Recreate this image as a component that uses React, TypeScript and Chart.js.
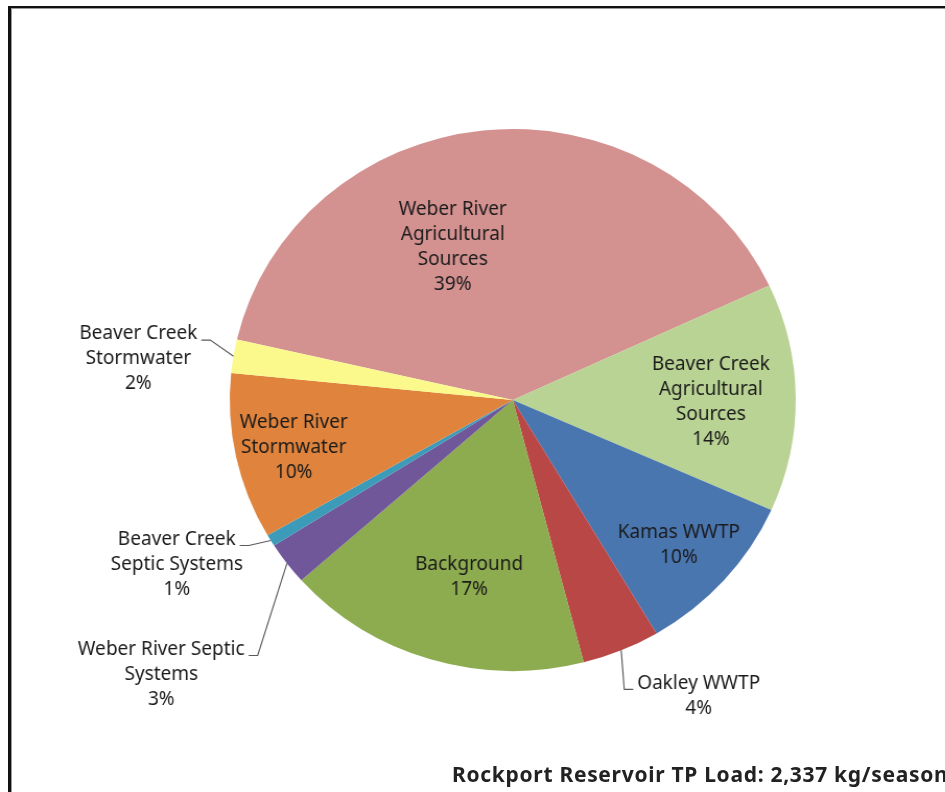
import React, { useEffect, useRef } from "react";
import { Chart, registerables } from "chart.js";

Chart.register(...registerables);

// ---- data -------------------------------------------------------------
const categories: string[][] = [
  ["Weber River", "Agricultural", "Sources"],
  ["Beaver Creek", "Agricultural", "Sources"],
  ["Kamas WWTP"],
  ["Oakley WWTP"],
  ["Background"],
  ["Weber River Septic", "Systems"],
  ["Beaver Creek", "Septic Systems"],
  ["Weber River", "Stormwater"],
  ["Beaver Creek", "Stormwater"],
];
// share of the seasonal TP load, %
const sharePct = [39.45, 13.6, 9.85, 4.45, 17.45, 2.55, 0.7, 9.9, 2.0];
const totalLoadText = "Rockport Reservoir TP Load: 2,337 kg/season";

// ---- styles -------------------------------------------------------------
const sliceColors = [
  "#D39190",
  "#B9D394",
  "#4A76B0",
  "#B94745",
  "#8DAB4F",
  "#70579A",
  "#3C9BB8",
  "#E0843D",
  "#FBF98C",
];
// label centre offsets, in units of the pie radius from its centre
const labelPlacement: [number, number][] = [
  [-0.212, -0.563],
  [0.7, 0.006],
  [0.587, 0.537],
  [0.657, 1.092],
  [-0.154, 0.655],
  [-1.242, 1.013],
  [-1.187, 0.607],
  [-0.774, 0.174],
  [-1.323, -0.151],
];
const RADIUS = 271;
const CENTER_Y = 400;
const SX = 283 / RADIUS; // horizontal stretch of the pie (ellipse)
const W = 945;
const H = 792;
const CANVAS_W = Math.round(W / SX);
const FONT = '19px "Noto Sans"';
const LINE_H = 25;

const labelPlugin = {
  id: "sliceLabels",
  afterDatasetsDraw(chart: any) {
    const ctx: CanvasRenderingContext2D = chart.ctx;
    const meta = chart.getDatasetMeta(0);
    ctx.save();
    ctx.scale(1 / SX, 1);
    ctx.font = FONT;
    ctx.textAlign = "center";
    ctx.textBaseline = "middle";
    meta.data.forEach((el: any, i: number) => {
      const p = el.getProps(["x", "y", "startAngle", "endAngle", "outerRadius"], true);
      const cx = p.x * SX;
      const cy = p.y;
      const rx = p.outerRadius * SX;
      const ry = p.outerRadius;
      const [nx, ny] = labelPlacement[i];
      const ax = cx + nx * rx;
      const ay = cy + ny * ry;
      const lines = [...categories[i], Math.round(sharePct[i]) + "%"];
      const y0 = ay - ((lines.length - 1) * LINE_H) / 2;
      if (Math.hypot(nx, ny) > 1) {
        const mid = (p.startAngle + p.endAngle) / 2;
        const px = cx + rx * Math.cos(mid);
        const py = cy + ry * Math.sin(mid);
        const w1 = ctx.measureText(lines[0]).width;
        const left = nx < 0;
        const axp = left ? ax + w1 / 2 + 4 : ax - w1 / 2 - 4;
        const ayp = y0 + 6;
        const bx = left ? axp + 9 : axp - 9;
        ctx.strokeStyle = "#5a5a5a";
        ctx.lineWidth = 1.2;
        ctx.beginPath();
        ctx.moveTo(axp, ayp);
        ctx.lineTo(bx, ayp);
        ctx.lineTo(px, py);
        ctx.stroke();
      }
      ctx.fillStyle = "#1b1b1b";
      lines.forEach((t, k) => ctx.fillText(t, ax, y0 + k * LINE_H));
    });
    ctx.restore();
  },
};

// pie centre on screen: (513, CENTER_Y)
const CX = 513 / SX;
const PAD_L = 100;
const PAD_R = Math.round(PAD_L + CANVAS_W - 2 * CX);
const PAD_T = 30;
const PAD_B = Math.round(PAD_T + H - 2 * CENTER_Y);

export default function App() {
  const ref = useRef<HTMLCanvasElement | null>(null);
  useEffect(() => {
    if (!ref.current) return;
    const chart = new Chart(ref.current, {
      type: "pie",
      data: {
        labels: categories,
        datasets: [
          {
            data: sharePct,
            backgroundColor: sliceColors,
            borderWidth: 0,
          },
        ],
      },
      options: {
        responsive: false,
        animation: false,
        devicePixelRatio: 1,
        rotation: 282.9,
        radius: RADIUS,
        layout: { padding: { left: PAD_L, right: PAD_R, top: PAD_T, bottom: PAD_B } },
        plugins: {
          legend: { display: false },
          tooltip: { enabled: false },
          title: { display: false },
        },
      },
      plugins: [labelPlugin],
    } as any);
    return () => chart.destroy();
  }, []);

  return (
    <div
      style={{
        position: "fixed",
        left: 0,
        top: 0,
        width: W,
        height: H,
        overflow: "hidden",
        background: "#fff",
      }}
    >
      <div
        style={{
          position: "absolute",
          left: 8,
          top: 6,
          width: 1000,
          height: 1000,
          borderLeft: "3px solid #111",
          borderTop: "2px solid #111",
          boxShadow: "inset 1px 1px 0 #9a9a9a",
        }}
      />
      <canvas
        ref={ref}
        width={CANVAS_W}
        height={H}
        style={{
          position: "absolute",
          left: 0,
          top: 0,
          transform: `scaleX(${SX})`,
          transformOrigin: "0 0",
        }}
      />
      <div
        style={{
          position: "absolute",
          left: 452,
          top: 760,
          whiteSpace: "nowrap",
          fontFamily: '"Noto Sans", sans-serif',
          fontWeight: 700,
          fontSize: 21,
          letterSpacing: 0.7,
          color: "#222",
        }}
      >
        {totalLoadText}
      </div>
    </div>
  );
}
